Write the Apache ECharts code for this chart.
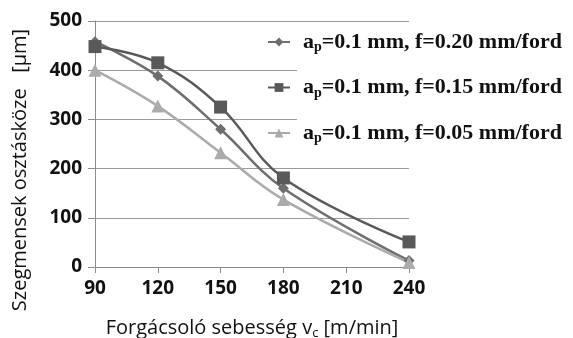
<!DOCTYPE html>
<html><head><meta charset="utf-8">
<script src="https://cdn.jsdelivr.net/npm/echarts@6/dist/echarts.min.js"></script>
<style>html,body{margin:0;padding:0;background:#fff}#c{width:573px;height:338px}</style>
</head><body><div id="c"></div>
<script>
var speeds = [90, 120, 150, 180, 240];
var f020 = [458, 388, 280, 160, 13];
var f015 = [448, 415, 325, 181, 51];
var f005 = [400, 327, 232, 137, 9];
var seriesNames = ['f=0.20', 'f=0.15', 'f=0.05'];
var legendLabels = ['=0.1 mm, f=0.20 mm/ford', '=0.1 mm, f=0.15 mm/ford', '=0.1 mm, f=0.05 mm/ford'];

function pairs(v){ return speeds.map(function(s,i){ return [s, v[i]]; }); }

var chart = echarts.init(document.getElementById('c'));
var common = {type:'line', smooth:0.4, lineStyle:{width:2.5}, z:3};
chart.setOption({
  animation:false,
  grid:{left:95, right:164, top:21, bottom:71, outerBoundsMode:'none', containLabel:false},
  graphic:[{type:'rect', shape:{x:297, y:30, width:276, height:122}, style:{fill:'#fff'}, z:1, silent:true}],
  xAxis:{type:'value', min:90, max:240, interval:30,
    axisLine:{show:true, onZero:false, lineStyle:{color:'#8c8c8c', width:1}},
    axisTick:{show:true, length:6, lineStyle:{color:'#8c8c8c'}},
    splitLine:{show:false},
    axisLabel:{color:'#111', fontFamily:'Open Sans', fontWeight:'bold', fontSize:19, margin:12},
    name:'{t|Forgácsoló sebesség v}{s|c}{t| [m/min]}', nameLocation:'middle', nameGap:50,
    nameTextStyle:{rich:{t:{fontFamily:'Open Sans', fontSize:20, color:'#111'}, s:{fontFamily:'Open Sans', fontSize:13, color:'#111', padding:[10,0,0,0]}}}
  },
  yAxis:{type:'value', min:0, max:500, interval:100,
    axisLine:{show:true, lineStyle:{color:'#8c8c8c', width:1}},
    axisTick:{show:true, length:7, lineStyle:{color:'#8c8c8c'}},
    splitLine:{show:true, lineStyle:{color:'#9a9a9a', width:1}},
    axisLabel:{color:'#111', fontFamily:'Open Sans', fontWeight:'bold', fontSize:19, margin:13},
    name:'Szegmensek osztásköze   [µm]', nameLocation:'middle', nameGap:65,
    nameTextStyle:{fontFamily:'Open Sans', fontSize:20, color:'#111', padding:[0,52,0,0]}
  },
  legend:{orient:'vertical', left:262, top:26, itemGap:22, itemWidth:22, itemHeight:11,
    data:seriesNames,
    formatter:function(n){ var i = seriesNames.indexOf(n); return '{b|a}{s|p}{b|'+legendLabels[i]+'}'; },
    textStyle:{padding:[0,0,0,8], rich:{b:{fontFamily:'Liberation Serif', fontWeight:'bold', fontSize:22, color:'#111'}, s:{fontFamily:'Liberation Serif', fontWeight:'bold', fontSize:14, color:'#111', padding:[11,0,0,0]}}}
  },
  series:[
    Object.assign({}, common, {name:seriesNames[0], data:pairs(f020), symbol:'diamond', symbolSize:11, itemStyle:{color:'#6e6e6e'}}),
    Object.assign({}, common, {name:seriesNames[1], data:pairs(f015), symbol:'rect', symbolSize:13, itemStyle:{color:'#595959'}}),
    Object.assign({}, common, {name:seriesNames[2], data:pairs(f005), symbol:'triangle', symbolSize:13, itemStyle:{color:'#ababab'}})
  ]
});
</script></body></html>
